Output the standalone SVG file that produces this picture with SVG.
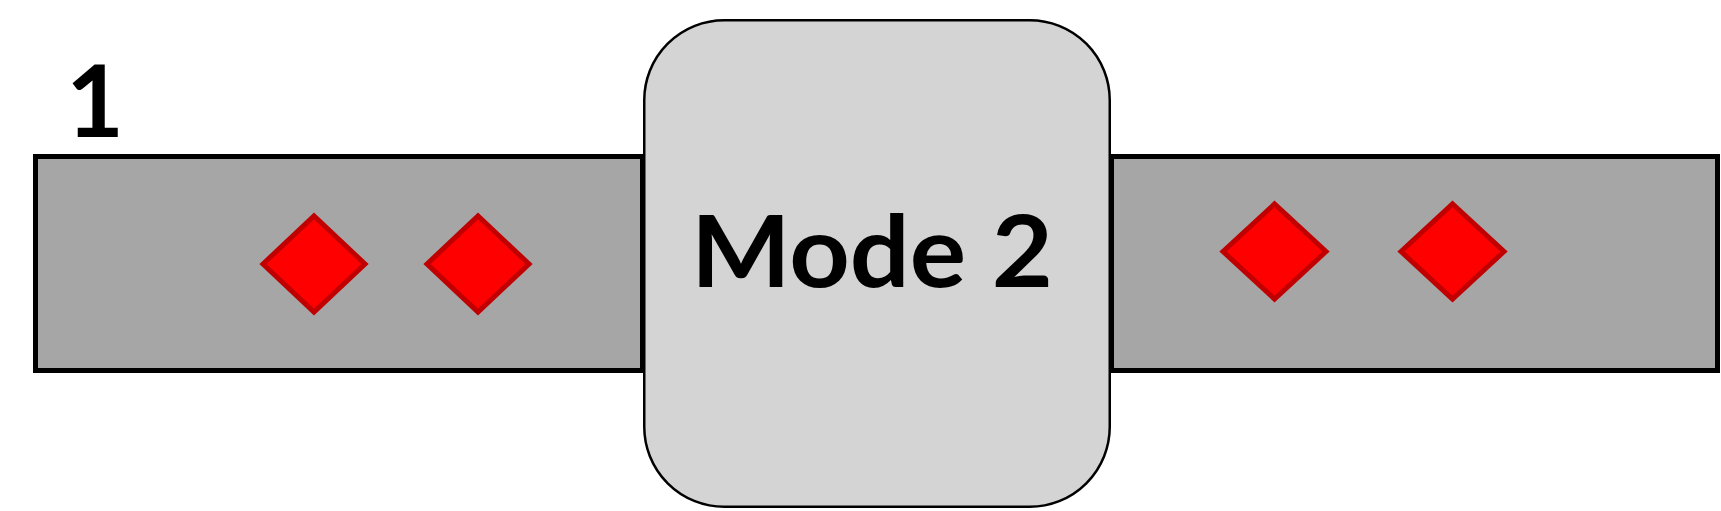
<svg xmlns="http://www.w3.org/2000/svg" width="1721" height="511" viewBox="0 0 1721 511">
<defs>
<style>
.bar{fill:#a6a6a6;stroke:#000;stroke-width:5}
.mode{fill:#d4d4d4;stroke:#000;stroke-width:2.5}
.dia{fill:#ff0000;stroke:#c00000;stroke-width:5;stroke-linejoin:miter}
.lbl{font-family:Lato,"Open Sans","Liberation Sans",sans-serif;font-weight:bold;font-size:100px;fill:#000}
</style>
</defs>
<rect width="1721" height="511" fill="#fff"/>
<g id="mode2">
<rect class="mode" x="644.25" y="20.25" width="465.5" height="486.5" rx="80" ry="80"/>
<text class="lbl" x="872" y="287" text-anchor="middle" font-size="104" textLength="362" lengthAdjust="spacingAndGlyphs">Mode 2</text>
</g>
<g id="left-bar">
<rect class="bar" x="35.5" y="156.5" width="607" height="214"/>
<polygon class="dia" points="263,264 314,216 365,264 314,312"/>
<polygon class="dia" points="427,264 478,216 529,264 478,312"/>
</g>
<g id="right-bar">
<rect class="bar" x="1111.5" y="156.5" width="606" height="214"/>
<polygon class="dia" points="1223,251.5 1274.5,204 1326,251.5 1274.5,299"/>
<polygon class="dia" points="1401,251.5 1452.5,204 1504,251.5 1452.5,299"/>
</g>
<g id="label-1">
<text class="lbl" x="95" y="137" text-anchor="middle">1</text>
</g>
</svg>
